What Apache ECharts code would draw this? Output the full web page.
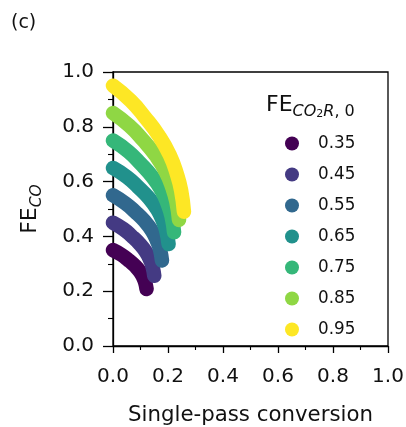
<!DOCTYPE html>
<html>
<head>
<meta charset="utf-8">
<script src="https://cdn.jsdelivr.net/npm/echarts@6/dist/echarts.min.js"></script>
<style>
  html, body { margin: 0; padding: 0; background: #fff; }
  #chart { width: 406px; height: 427px; }
</style>
</head>
<body>
<div id="chart"></div>
<script>
// FE_CO2R,0 values (legend)
var feLabels = ['0.35', '0.45', '0.55', '0.65', '0.75', '0.85', '0.95'];
var colors = ['#440154', '#443a83', '#31688e', '#21918c', '#35b779', '#8fd744', '#fde725'];

// points: single-pass conversion (x) and FE_CO (y)
var x035 = [0, 0.0305, 0.0549, 0.0793, 0.0976, 0.1098, 0.1171, 0.122];
var y035 = [0.35, 0.333, 0.3145, 0.293, 0.272, 0.2506, 0.232, 0.208];
var x045 = [0, 0.0375, 0.0675, 0.0975, 0.120, 0.135, 0.144, 0.150];
var y045 = [0.45, 0.427, 0.4015, 0.372, 0.343, 0.314, 0.289, 0.256];
var x055 = [0, 0.0445, 0.0801, 0.1157, 0.1424, 0.1602, 0.1709, 0.178];
var y055 = [0.55, 0.521, 0.4905, 0.455, 0.419, 0.383, 0.3525, 0.312];
var x065 = [0, 0.0505, 0.0909, 0.1313, 0.1616, 0.1818, 0.1939, 0.202];
var y065 = [0.65, 0.617, 0.5805, 0.539, 0.497, 0.455, 0.419, 0.372];
var x075 = [0, 0.0555, 0.0999, 0.1443, 0.1776, 0.1998, 0.2131, 0.222];
var y075 = [0.75, 0.710, 0.666, 0.616, 0.566, 0.5155, 0.472, 0.415];
var x085 = [0, 0.060, 0.108, 0.156, 0.192, 0.216, 0.2304, 0.240];
var y085 = [0.85, 0.803, 0.7525, 0.694, 0.6355, 0.577, 0.526, 0.460];
var x095 = [0, 0.0645, 0.1161, 0.1677, 0.2064, 0.2322, 0.2477, 0.258];
var y095 = [0.95, 0.895, 0.835, 0.766, 0.697, 0.628, 0.568, 0.490];

var curvesX = [x035, x045, x055, x065, x075, x085, x095];
var curvesY = [y035, y045, y055, y065, y075, y085, y095];

var font = 'DejaVu Sans';
var textColor = '#111';
var chart = echarts.init(document.getElementById('chart'));

var series = feLabels.map(function (name, i) {
  return {
    name: name,
    type: 'line',
    smooth: true,
    showSymbol: false,
    clip: true,
    data: curvesX[i].map(function (x, j) { return [x, curvesY[i][j]] }),
    lineStyle: { width: 14.5, color: colors[i], cap: 'round', join: 'round' },
    itemStyle: { color: colors[i] }
  }
})

var option = {
  animation: false,
  backgroundColor: '#fff',
  grid: {
    left: 113, right: 18, top: 72, bottom: 81,
    outerBoundsMode: 'none',
    show: true, borderColor: '#000', borderWidth: 1.3
  },
  xAxis: {
    type: 'value',
    min: 0, max: 1, interval: 0.2,
    name: 'Single-pass conversion',
    nameLocation: 'middle',
    nameGap: 59,
    nameTextStyle: { fontFamily: font, fontSize: 21.3, color: textColor },
    axisLine: { show: true, onZero: false, lineStyle: { color: '#000', width: 1.3 } },
    axisTick: { show: true, length: 7, lineStyle: { color: '#000', width: 1.3 } },
    minorTick: { show: true, splitNumber: 2, length: 4, lineStyle: { color: '#000', width: 1.1 } },
    splitLine: { show: false },
    axisLabel: {
      margin: 21, fontFamily: font, fontSize: 20, color: textColor,
      formatter: function (v) { return v.toFixed(1) }
    }
  },
  yAxis: {
    type: 'value',
    min: 0, max: 1, interval: 0.2,
    name: '{a|FE}{b|CO}',
    nameLocation: 'middle',
    nameGap: 68,
    nameTextStyle: {
      fontFamily: font, color: textColor,
      rich: {
        a: { fontFamily: font, fontSize: 22, lineHeight: 30, color: textColor },
        b: { fontFamily: font, fontSize: 15.5, fontStyle: 'italic', lineHeight: 30, verticalAlign: 'bottom', color: textColor }
      }
    },
    axisLine: { show: true, onZero: false, lineStyle: { color: '#000', width: 1.3 } },
    axisTick: { show: true, length: 10, lineStyle: { color: '#000', width: 1.3 } },
    minorTick: { show: true, splitNumber: 2, length: 5, lineStyle: { color: '#000', width: 1.1 } },
    splitLine: { show: false },
    axisLabel: {
      margin: 19, fontFamily: font, fontSize: 20, color: textColor,
      formatter: function (v) { return v.toFixed(1) }
    }
  },
  legend: {
    orient: 'vertical',
    left: 285, top: 135,
    padding: 0,
    itemGap: 14,
    itemWidth: 14, itemHeight: 14,
    icon: 'circle',
    data: feLabels,
    textStyle: { fontFamily: font, fontSize: 16.8, color: textColor, lineHeight: 14, padding: [0, 0, 0, 14] }
  },
  graphic: [
    {
      type: 'text', left: 11, top: 14,
      style: { text: '(c)', fontFamily: font, fontSize: 19, fill: textColor }
    },
    {
      type: 'text', left: 266, top: 94,
      style: {
        text: '{a|FE}{b|CO}{c|2}{b|R}{d|, 0}',
        rich: {
          a: { fontFamily: font, fontSize: 22, lineHeight: 30, fill: textColor },
          b: { fontFamily: font, fontSize: 16, fontStyle: 'italic', lineHeight: 30, verticalAlign: 'bottom', fill: textColor },
          c: { fontFamily: font, fontSize: 11, lineHeight: 30, verticalAlign: 'bottom', fill: textColor },
          d: { fontFamily: font, fontSize: 16, lineHeight: 30, verticalAlign: 'bottom', fill: textColor }
        }
      }
    }
  ],
  series: series
}

option && chart.setOption(option)
</script>
</body>
</html>
